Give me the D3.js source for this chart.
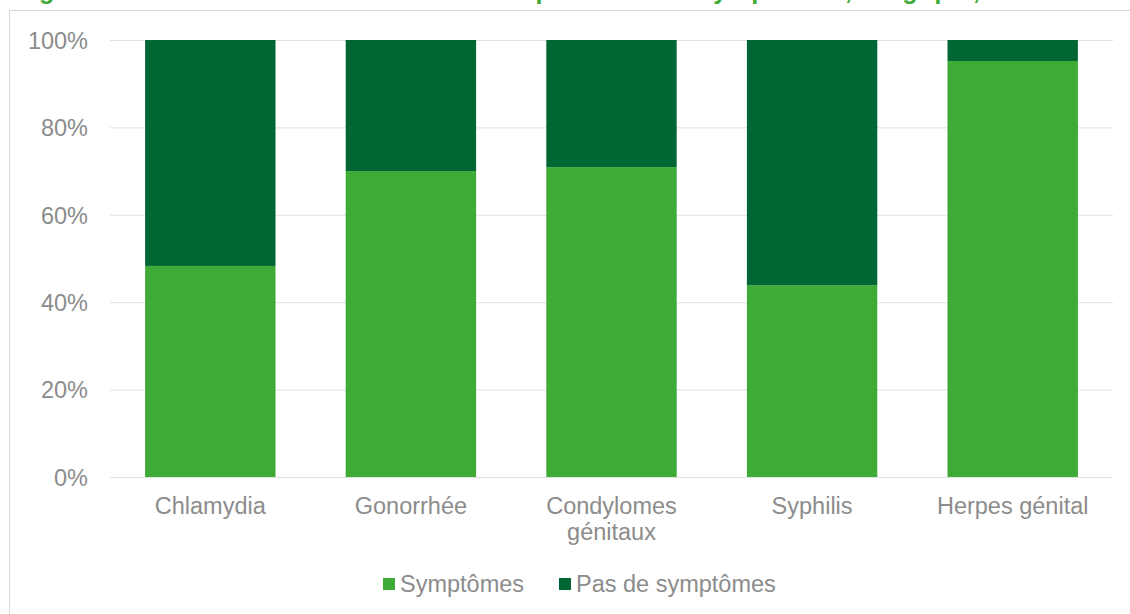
<!DOCTYPE html>
<html><head><meta charset="utf-8">
<script src="https://cdn.jsdelivr.net/npm/d3@7"></script>
<style>body{margin:0;background:#fff}svg{display:block}</style>
</head><body>
<script>
const categories = ["Chlamydia", "Gonorrhée", "Condylomes génitaux", "Syphilis", "Herpes génital"];
const categoryLines = [["Chlamydia"], ["Gonorrhée"], ["Condylomes", "génitaux"], ["Syphilis"], ["Herpes génital"]];
const symptomes = [48.3, 70.0, 70.9, 43.9, 95.2];
const pasSymptomes = [51.7, 30.0, 29.1, 56.1, 4.8];
const seriesNames = ["Symptômes", "Pas de symptômes"];
const seriesColors = ["#3dab35", "#006633"];
const yTicks = [0, 20, 40, 60, 80, 100];
const title = "Figure 4 – Distribution des ITSS selon la présence de symptômes, Belgique, 2019-2020";

const W = 1130, H = 614;
const svg = d3.select("body").append("svg").attr("width", W).attr("height", H);
const font = "Liberation Sans, Arial, sans-serif";
const fs = 23.5;

// title (cut at the top, as in the reference)
svg.append("text").attr("x", 15).attr("y", -1).attr("font-family", font)
  .attr("font-weight", "bold").attr("font-size", 25).attr("fill", "#3dab35")
  .attr("textLength", 1100).attr("lengthAdjust", "spacing").text(title);

// chart border
svg.append("rect").attr("x", 9.5).attr("y", 10.5).attr("width", W + 10).attr("height", H + 10)
  .attr("fill", "#fff").attr("stroke", "#d9d9d9").attr("stroke-width", 1);

const x = d3.scaleBand().domain(categories).range([110, 1113]).paddingInner(0.35).paddingOuter(0.175);
const y = d3.scaleLinear().domain([0, 100]).range([477, 40]);

// gridlines
svg.append("g").selectAll("line").data(yTicks).join("line")
  .attr("x1", 110).attr("x2", 1113).attr("y1", d => y(d) + 0.5).attr("y2", d => y(d) + 0.5)
  .attr("stroke", "#e0e0e0").attr("stroke-width", 1);

// y axis labels
const yAxis = d3.axisLeft(y).tickValues(yTicks).tickFormat(d => d + "%").tickSize(0).tickPadding(0);
const ya = svg.append("g").attr("transform", "translate(88,0)").call(yAxis);
ya.select(".domain").remove();
ya.selectAll("text").attr("font-family", font).attr("font-size", fs).attr("fill", "#8c8c8c").attr("dy", "0.35em");

// stacked bars
const data = categories.map((c, i) => ({cat: c, s: symptomes[i], p: pasSymptomes[i]}));
const stack = d3.stack().keys(["s", "p"])(data);
svg.append("g").selectAll("g").data(stack).join("g")
  .attr("fill", (d, i) => seriesColors[i])
  .selectAll("rect").data(d => d).join("rect")
  .attr("x", d => x(d.data.cat)).attr("width", x.bandwidth())
  .attr("y", d => y(d[1])).attr("height", d => y(d[0]) - y(d[1]));

// x labels
const xl = svg.append("g");
categories.forEach((c, i) => {
  const cx = x(c) + x.bandwidth() / 2;
  const t = xl.append("text").attr("x", cx).attr("y", 514)
    .attr("text-anchor", "middle").attr("font-family", font).attr("font-size", fs).attr("fill", "#8c8c8c");
  categoryLines[i].forEach((ln, j) => t.append("tspan").attr("x", cx).attr("dy", j ? 26 : 0).text(ln));
});

// legend
const leg = svg.append("g");
const legX = [383, 559];
seriesNames.forEach((n, i) => {
  leg.append("rect").attr("x", legX[i]).attr("y", 578).attr("width", 12).attr("height", 12).attr("fill", seriesColors[i]);
  leg.append("text").attr("x", legX[i] + 17).attr("y", 592).attr("font-family", font).attr("font-size", fs)
    .attr("fill", "#8c8c8c").text(n);
});
</script>
</body></html>
